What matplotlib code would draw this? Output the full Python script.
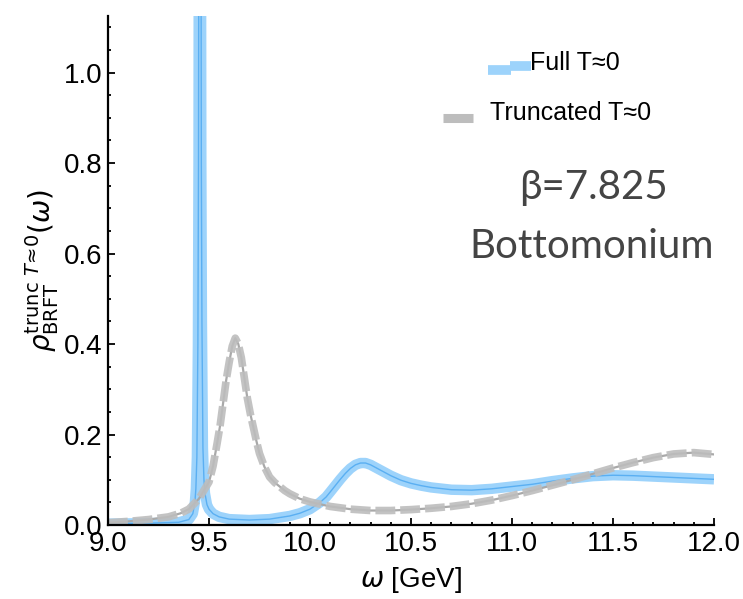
import matplotlib
matplotlib.use("Agg")
import matplotlib.pyplot as plt
from matplotlib.lines import Line2D
from matplotlib.ticker import MultipleLocator, FormatStrFormatter

# ---- data ----
full_x = [9.00, 9.20, 9.35, 9.40, 9.42, 9.43, 9.435, 9.44, 9.445, 9.448, 9.45, 9.455,
          9.46, 9.462, 9.465, 9.47, 9.475, 9.48, 9.49, 9.50, 9.52, 9.55, 9.60, 9.70,
          9.80, 9.90, 9.95, 10.00, 10.05, 10.08, 10.10, 10.125, 10.15, 10.175, 10.20,
          10.225, 10.25, 10.275, 10.30, 10.325, 10.35, 10.375, 10.40, 10.45, 10.50,
          10.55, 10.60, 10.70, 10.80, 10.90, 11.00, 11.10, 11.20, 11.30, 11.40, 11.50,
          11.60, 11.70, 11.80, 11.90, 12.00]
full_y = [0.003, 0.004, 0.006, 0.012, 0.025, 0.05, 0.08, 0.15, 0.40, 0.80, 1.5, 4.0,
          1.5, 0.80, 0.45, 0.17, 0.10, 0.07, 0.045, 0.035, 0.025, 0.018, 0.013, 0.011,
          0.013, 0.020, 0.026, 0.035, 0.050, 0.062, 0.073, 0.087, 0.101, 0.114, 0.125,
          0.133, 0.137, 0.137, 0.133, 0.127, 0.121, 0.115, 0.109, 0.099, 0.092,
          0.087, 0.083, 0.078, 0.077, 0.080, 0.085, 0.090, 0.097, 0.103, 0.108, 0.110,
          0.109, 0.107, 0.105, 0.103, 0.101]

trunc_x = [9.00, 9.10, 9.20, 9.30, 9.36, 9.40, 9.45, 9.50, 9.52, 9.54, 9.555, 9.57,
           9.585, 9.60, 9.615, 9.63, 9.645, 9.66, 9.675, 9.69, 9.705, 9.72, 9.735,
           9.75, 9.775, 9.80, 9.825, 9.85, 9.875, 9.90, 9.95, 10.00, 10.10, 10.20,
           10.30, 10.40, 10.50, 10.60, 10.70, 10.80, 10.90, 11.00, 11.10, 11.20, 11.30,
           11.40, 11.50, 11.60, 11.70, 11.80, 11.90, 12.00]
trunc_y = [0.005, 0.008, 0.012, 0.018, 0.026, 0.035, 0.058, 0.095, 0.13, 0.18, 0.22, 0.27,
           0.32, 0.36, 0.395, 0.413, 0.400, 0.37, 0.325, 0.28, 0.245, 0.215, 0.185,
           0.158, 0.128, 0.106, 0.094, 0.085, 0.076, 0.069, 0.058, 0.051, 0.041, 0.035,
           0.032, 0.032, 0.034, 0.037, 0.041, 0.047, 0.055, 0.065, 0.076, 0.088, 0.100,
           0.113, 0.126, 0.138, 0.149, 0.157, 0.160, 0.156]

x_ticks = [9.0, 9.5, 10.0, 10.5, 11.0, 11.5, 12.0]
y_ticks = [0.0, 0.2, 0.4, 0.6, 0.8, 1.0]

W, H = 743, 599
fig = plt.figure(figsize=(W / 100, H / 100), dpi=100)
fig.patch.set_facecolor("white")
ax = fig.add_axes([108 / W, 1 - 525 / H, (714 - 108) / W, (525 - 16) / H])

band_c = "#9dd3fb"
line_c = "#5aaff2"
gray_dash = "#bdbdbd"
gray_line = "#a9a9a9"

# Full T≈0 : thick light band + thin center line
ax.plot(full_x, full_y, color=band_c, lw=7.5, solid_capstyle="butt",
        solid_joinstyle="round", zorder=2)
ax.plot(full_x, full_y, color=line_c, lw=1.0, zorder=3)

# Truncated T≈0 : thin gray line + thick gray dashes
ax.plot(trunc_x, trunc_y, color=gray_line, lw=1.6, zorder=4)
ax.plot(trunc_x, trunc_y, color=gray_dash, lw=5.5, dashes=(2.6, 0.65),
        alpha=0.9, zorder=5)

ax.set_xlim(9.0, 12.0)
ax.set_ylim(0.0, 1.125)

for s in ["top", "right"]:
    ax.spines[s].set_visible(False)
for s in ["left", "bottom"]:
    ax.spines[s].set_linewidth(1.6)
    ax.spines[s].set_zorder(6)

ax.set_xticks(x_ticks)
ax.set_yticks(y_ticks)
ax.xaxis.set_major_formatter(FormatStrFormatter("%.1f"))
ax.yaxis.set_major_formatter(FormatStrFormatter("%.1f"))
ax.xaxis.set_minor_locator(MultipleLocator(0.1))
ax.yaxis.set_minor_locator(MultipleLocator(0.05))
ax.tick_params(which="both", direction="in", top=False, right=False, width=1.3,
               labelsize=20, pad=4)
ax.tick_params(which="major", length=5)
ax.tick_params(which="minor", length=2.5)
for lab in ax.get_xticklabels() + ax.get_yticklabels():
    lab.set_fontfamily("Liberation Sans")

ax.set_xlabel(r"$\omega$ [GeV]", fontsize=20, fontfamily="Liberation Sans", labelpad=6)
ax.set_ylabel(r"$\rho^{\rm trunc\ \mathit{T}\!\approx\!0}_{\rm BRFT}(\omega)$",
              fontsize=20, labelpad=2)

# manual legend (figure pixel coords)
def fx(px):
    return px / W

def fy(py):
    return 1 - py / H

fig.add_artist(Line2D([fx(488), fx(511)], [fy(70), fy(70)], color=band_c, lw=7,
                      solid_capstyle="butt"))
fig.add_artist(Line2D([fx(510), fx(531)], [fy(66), fy(66)], color=band_c, lw=7,
                      solid_capstyle="butt"))
fig.text(fx(530), fy(63), "Full T≈0", fontsize=18, fontfamily="Liberation Sans",
         va="center", ha="left", color="black")
fig.add_artist(Line2D([fx(443), fx(473)], [fy(118), fy(118)], color=gray_dash, lw=6.5,
                      solid_capstyle="butt"))
fig.text(fx(490), fy(113), "Truncated T≈0", fontsize=18, fontfamily="Liberation Sans",
         va="center", ha="left", color="black")

fig.text(fx(593), fy(187), "β=7.825", fontsize=29, fontfamily="Lato",
         va="center", ha="center", color="#444444")
fig.text(fx(592), fy(246), "Bottomonium", fontsize=29, fontfamily="Lato",
         va="center", ha="center", color="#444444")

fig.savefig("out.png", dpi=100)
